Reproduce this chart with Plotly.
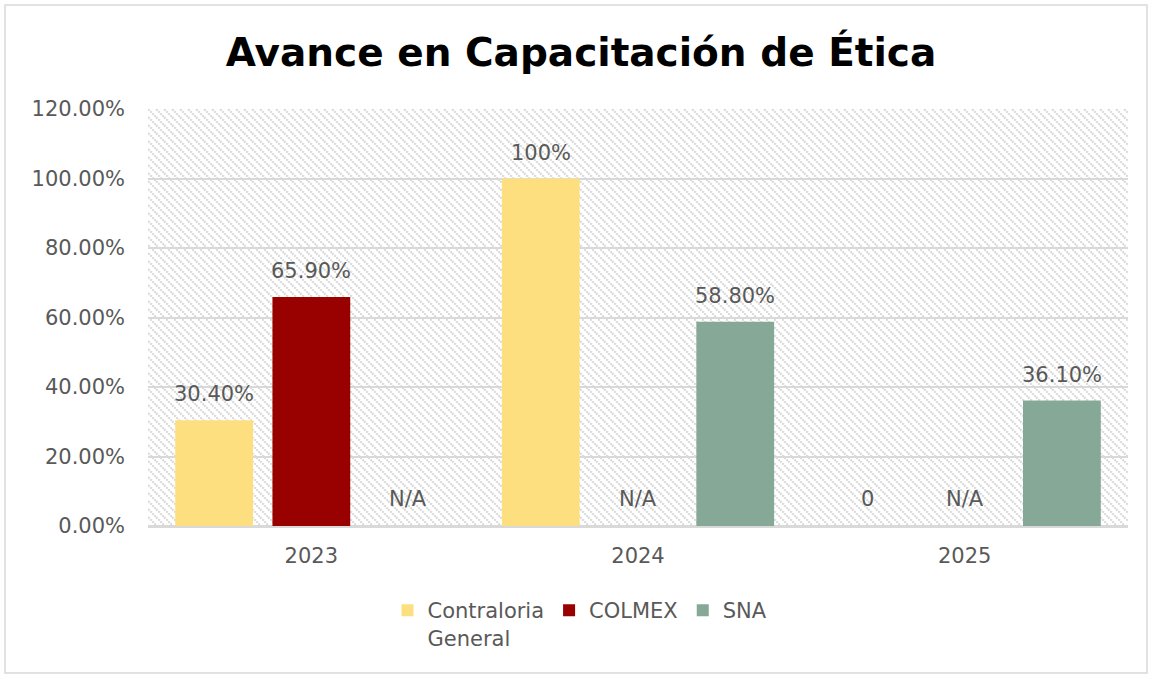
import base64
import plotly.graph_objects as go

# ---- data ----
years = ["2023", "2024", "2025"]
series_names = ["Contraloria<br>General", "COLMEX", "SNA"]
contraloria = [0.304, 1.0, 0.0]
colmex = [0.659, 0.0, 0.0]
sna = [0.0, 0.588, 0.361]
contraloria_labels = ["30.40%", "100%", "0"]
colmex_labels = ["65.90%", "N/A", "N/A"]
sna_labels = ["N/A", "58.80%", "36.10%"]
colors = ["#FEDF7F", "#990000", "#86A897"]
y_ticks = [0, 0.2, 0.4, 0.6, 0.8, 1.0, 1.2]

W, H = 1149, 675
ML, MR, MT, MB = 148, 21, 109, 149
PW, PH = W - ML - MR, H - MT - MB

FONT = "DejaVu Sans"
GRAY = "#595959"
FS = 21

series = [contraloria, colmex, sna]
labels = [contraloria_labels, colmex_labels, sna_labels]

fig = go.Figure()
for name, vals, col in zip(series_names, series, colors):
    fig.add_trace(go.Bar(
        x=years, y=vals, name=name,
        marker=dict(color=col, line=dict(width=0)),
        hoverinfo="skip",
    ))

# value labels
bar_step = 97  # px between bar centres inside a group
for i, (vals, labs) in enumerate(zip(series, labels)):
    for j, (v, lab) in enumerate(zip(vals, labs)):
        if lab in ("N/A", "0"):
            yv, ysh = 0.0, 13
        else:
            yv, ysh = v, 12
        fig.add_annotation(
            x=j, y=yv, xref="x", yref="y", text=lab, showarrow=False,
            xshift=(i - 1) * bar_step, yshift=ysh, yanchor="bottom",
            font=dict(family=FONT, size=FS, color=GRAY),
        )

# hatched plot background
svg = (
    f'<svg xmlns="http://www.w3.org/2000/svg" width="{PW}" height="{PH}" '
    f'viewBox="0 0 {PW} {PH}">'
    '<defs><pattern id="p" width="8" height="8" patternUnits="userSpaceOnUse">'
    '<path d="M-2,-2 L10,10 M-2,6 L2,10 M6,-2 L10,2" stroke="#d6d6d6" '
    'stroke-width="2" stroke-dasharray="2,1"/></pattern></defs>'
    f'<rect width="{PW}" height="{PH}" fill="white"/>'
    f'<rect width="{PW}" height="{PH}" fill="url(#p)"/></svg>'
)
uri = "data:image/svg+xml;base64," + base64.b64encode(svg.encode()).decode()
fig.add_layout_image(dict(
    source=uri, xref="paper", yref="paper", x=0, y=1,
    sizex=1, sizey=1, xanchor="left", yanchor="top",
    sizing="stretch", layer="below",
))

# outer chart border
fig.add_shape(
    type="rect", xref="paper", yref="paper",
    x0=(5 - ML) / PW, x1=(1147 - ML) / PW,
    y0=(MT + PH - 673) / PH, y1=(MT + PH - 5) / PH,
    line=dict(color="#d9d9d9", width=1.5), fillcolor="rgba(0,0,0,0)",
    layer="below",
)

fig.update_layout(
    width=W, height=H,
    margin=dict(l=ML, r=MR, t=MT, b=MB, autoexpand=False),
    paper_bgcolor="white", plot_bgcolor="rgba(0,0,0,0)",
    barmode="group", bargap=0.107, bargroupgap=0.2,
    title=dict(
        text="<b>Avance en Capacitación de Ética</b>",
        x=581 / W, xref="container", xanchor="center",
        y=1 - 52 / H, yref="container", yanchor="middle",
        font=dict(family=FONT, size=39, color="#000000"),
    ),
    font=dict(family=FONT, size=FS, color=GRAY),
    showlegend=True,
    legend=dict(
        orientation="h", x=(580 - ML) / PW, xanchor="center",
        y=(MT + PH - 590) / PH, yanchor="top",
        font=dict(family=FONT, size=FS, color=GRAY),
        valign="top", itemwidth=30, traceorder="normal",
        bgcolor="rgba(0,0,0,0)",
    ),
    xaxis=dict(
        type="category", range=[-0.5, 2.5], autorange=False,
        showgrid=False, ticks="", showline=True,
        linecolor="#d9d9d9", linewidth=1.5, ticklabelstandoff=10,
        tickfont=dict(family=FONT, size=FS, color=GRAY),
        fixedrange=True,
    ),
    yaxis=dict(
        range=[0, 1.2], autorange=False, tickvals=y_ticks, tickformat=".2%",
        showgrid=True, gridcolor="#d9d9d9", gridwidth=1.5,
        zeroline=True, zerolinecolor="#d9d9d9", zerolinewidth=1.5,
        ticks="", ticklabelstandoff=22,
        tickfont=dict(family=FONT, size=FS, color=GRAY),
        fixedrange=True,
    ),
)

fig.write_html("out.html", config={"displayModeBar": False},
               post_script="document.body.style.margin='0';")
